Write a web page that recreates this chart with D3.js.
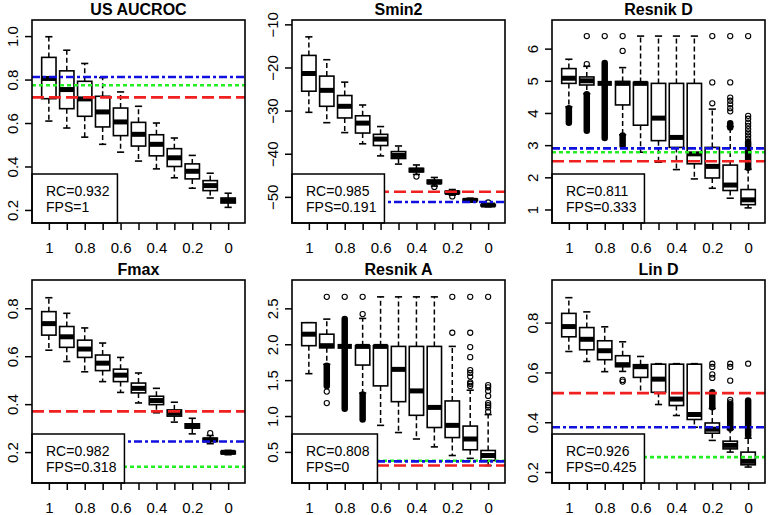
<!DOCTYPE html>
<html>
<head>
<meta charset="utf-8">
<script src="https://cdn.jsdelivr.net/npm/d3@7"></script>
<style>
body { margin: 0; background: #fff; }
text { font-family: "Liberation Sans", Arial, sans-serif; }
</style>
</head>
<body>
<svg id="chart" width="769" height="515"></svg>
<script>
// x categories (fraction kept), every other one gets a label
var levels = ["1", "0.9", "0.8", "0.7", "0.6", "0.5", "0.4", "0.3", "0.2", "0.1", "0"];

// each box: [lower whisker, q1, median, q3, upper whisker]
// --- US AUCROC
var aucStats = [
	[0.609, 0.712, 0.805, 0.902, 0.997],
	[0.577, 0.666, 0.754, 0.840, 0.935],
	[0.535, 0.631, 0.711, 0.792, 0.874],
	[0.502, 0.582, 0.651, 0.723, 0.809],
	[0.466, 0.542, 0.605, 0.669, 0.743],
	[0.425, 0.494, 0.548, 0.603, 0.677],
	[0.389, 0.449, 0.502, 0.546, 0.600],
	[0.348, 0.400, 0.440, 0.482, 0.531],
	[0.300, 0.343, 0.378, 0.412, 0.451],
	[0.255, 0.289, 0.312, 0.335, 0.369],
	[0.212, 0.232, 0.243, 0.255, 0.277]
];
var aucOut = [[], [], [], [], [], [], [], [], [], [], []];
var aucBand = [null, null, null, null, null, null, null, null, null, null, null];
var aucRef = [0.718, 0.774, 0.812]; // red, green, blue
var aucYlim = [0.14, 1.074];
var aucTicks = [0.2, 0.4, 0.6, 0.8, 1.0];

// --- Smin2
var sminStats = [
	[-30.4, -25.5, -21.4, -17.2, -12.9],
	[-32.8, -29.0, -25.3, -22.0, -18.2],
	[-35.1, -31.7, -29.0, -26.5, -23.4],
	[-37.7, -35.2, -32.9, -31.2, -28.7],
	[-40.5, -38.1, -36.6, -35.5, -33.7],
	[-42.4, -41.1, -40.4, -39.5, -38.2],
	[-44.8, -44.2, -43.8, -43.4, -42.6],
	[-47.5, -46.9, -46.6, -46.1, -45.5],
	[-49.6, -49.2, -49.0, -48.7, -48.3],
	[-51.2, -50.9, -50.8, -50.5, -50.3],
	[-52.3, -52.1, -51.9, -51.8, -51.6]
];
var sminOut = [[], [], [], [], [], [], [-45.3], [-47.7], [-49.9], [], [-51.3]];
var sminBand = [null, null, null, null, null, null, null, null, null, null, null];
var sminRef = [-48.8, null, -51.2];
var sminYlim = [-56.06, -8.99];
var sminTicks = [-50, -40, -30, -20, -10];

// --- Resnik D
var resDStats = [
	[4.19, 4.92, 5.08, 5.38, 5.67],
	[4.60, 4.87, 5.00, 5.12, 5.45],
	[4.92, 4.92, 4.92, 4.92, 4.92],
	[3.32, 4.25, 4.92, 4.98, 5.41],
	[2.78, 3.62, 4.92, 4.95, 6.39],
	[2.47, 3.14, 3.84, 4.92, 6.39],
	[2.24, 2.93, 3.24, 4.92, 6.39],
	[1.95, 2.42, 2.73, 4.92, 6.39],
	[1.66, 1.98, 2.34, 2.93, 4.12],
	[1.35, 1.59, 1.76, 2.38, 3.58],
	[1.05, 1.15, 1.30, 1.62, 2.25]
];
var resDOut = [
	[],
	[6.39, 5.52],
	[6.39],
	[6.39, 5.93],
	[], [], [], [],
	[6.39, 4.95, 4.30],
	[6.39, 4.95, 4.48, 4.38, 4.27, 4.15, 4.05],
	[6.39, 3.91, 3.82, 3.70, 3.60, 3.50, 3.40, 3.30, 3.20]
];
var resDBand = [[4.15, 3.70], [4.58, 3.45], [5.55, 3.22], [3.30, 2.98], null, null, null, null, null, [3.68, 3.55], [3.10, 2.30]];
var resDRef = [2.50, 2.78, 2.90];
var resDYlim = [0.58, 6.89];
var resDTicks = [1, 2, 3, 4, 5, 6];

// --- Fmax
var fmaxStats = [
	[0.625, 0.688, 0.736, 0.786, 0.844],
	[0.578, 0.637, 0.681, 0.724, 0.779],
	[0.535, 0.595, 0.630, 0.667, 0.718],
	[0.494, 0.540, 0.571, 0.605, 0.655],
	[0.449, 0.494, 0.521, 0.546, 0.595],
	[0.405, 0.447, 0.466, 0.488, 0.530],
	[0.364, 0.398, 0.415, 0.433, 0.466],
	[0.325, 0.350, 0.362, 0.376, 0.408],
	[0.276, 0.300, 0.308, 0.318, 0.341],
	[0.235, 0.244, 0.251, 0.258, 0.269],
	[0.189, 0.193, 0.199, 0.203, 0.207]
];
var fmaxOut = [[], [], [], [], [], [], [], [], [], [0.279], []];
var fmaxBand = [null, null, null, null, null, null, null, null, null, null, null];
var fmaxRef = [0.370, 0.139, 0.244];
var fmaxYlim = [0.071, 0.918];
var fmaxTicks = [0.2, 0.4, 0.6, 0.8];

// --- Resnik A
var resAStats = [
	[1.59, 1.98, 2.14, 2.30, 2.30],
	[1.72, 1.95, 1.98, 2.14, 2.35],
	[1.97, 1.97, 1.97, 1.97, 1.97],
	[1.32, 1.71, 1.97, 1.98, 2.36],
	[0.87, 1.42, 1.97, 1.98, 2.66],
	[0.77, 1.20, 1.65, 1.97, 2.66],
	[0.68, 1.01, 1.35, 1.97, 2.66],
	[0.57, 0.84, 1.12, 1.97, 2.66],
	[0.45, 0.70, 0.87, 1.21, 1.97],
	[0.41, 0.53, 0.68, 0.86, 1.36],
	[0.31, 0.38, 0.45, 0.52, 1.02]
];
var resAOut = [
	[],
	[2.66, 1.34, 1.18],
	[2.66],
	[2.66, 2.42],
	[], [], [], [],
	[2.66, 2.16],
	[2.66, 2.16, 1.96, 1.82, 1.64, 1.60, 1.55, 1.47, 1.45, 1.42],
	[2.66, 1.43, 1.40, 1.35, 1.28, 1.18, 1.15, 1.12, 1.06]
];
var resABand = [null, [1.70, 1.42], [2.35, 1.10], [1.30, 0.95], null, null, null, null, null, null, null];
var resARef = [0.31, 0.378, 0.368];
var resAYlim = [0.067, 2.895];
var resATicks = [0.5, 1.0, 1.5, 2.0, 2.5];

// --- Lin D
var linDStats = [
	[0.684, 0.743, 0.784, 0.837, 0.900],
	[0.644, 0.691, 0.733, 0.780, 0.843],
	[0.603, 0.651, 0.687, 0.727, 0.783],
	[0.604, 0.623, 0.631, 0.667, 0.723],
	[0.517, 0.580, 0.623, 0.631, 0.664],
	[0.471, 0.520, 0.573, 0.633, 0.635],
	[0.427, 0.467, 0.493, 0.633, 0.635],
	[0.380, 0.411, 0.431, 0.633, 0.635],
	[0.327, 0.356, 0.372, 0.397, 0.455],
	[0.280, 0.293, 0.307, 0.324, 0.371],
	[0.220, 0.229, 0.243, 0.280, 0.336]
];
var linDOut = [
	[], [], [],
	[0.570, 0.563],
	[], [], [], [],
	[0.635, 0.622, 0.592, 0.578],
	[0.635, 0.622, 0.567, 0.490, 0.480],
	[0.635]
];
var linDBand = [null, null, null, null, null, null, null, null, [0.52, 0.46], [0.472, 0.375], [0.487, 0.347]];
var linDRef = [0.517, 0.260, 0.380];
var linDYlim = [0.156, 0.971];
var linDTicks = [0.2, 0.4, 0.6, 0.8];

var titles = ["US AUCROC", "Smin2", "Resnik D", "Fmax", "Resnik A", "Lin D"];
var rcVals = ["0.932", "0.985", "0.811", "0.982", "0.808", "0.926"];
var fpsVals = ["1", "0.191", "0.333", "0.318", "0", "0.425"];

var refColors = ["#f02020", "#22ee22", "#1010e0"];
var refDash = ["12,5", "4,3", "8,3,3,3"];

var panels = [
	{stats: aucStats, out: aucOut, band: aucBand, ref: aucRef, ylim: aucYlim, ticks: aucTicks},
	{stats: sminStats, out: sminOut, band: sminBand, ref: sminRef, ylim: sminYlim, ticks: sminTicks},
	{stats: resDStats, out: resDOut, band: resDBand, ref: resDRef, ylim: resDYlim, ticks: resDTicks},
	{stats: fmaxStats, out: fmaxOut, band: fmaxBand, ref: fmaxRef, ylim: fmaxYlim, ticks: fmaxTicks},
	{stats: resAStats, out: resAOut, band: resABand, ref: resARef, ylim: resAYlim, ticks: resATicks},
	{stats: linDStats, out: linDOut, band: linDBand, ref: linDRef, ylim: linDYlim, ticks: linDTicks}
];

var svg = d3.select("#chart");
svg.append("rect").attr("width", 769).attr("height", 515).attr("fill", "#fff");

var pw = 213, ph = 203;

panels.forEach(function(p, k) {
	var col = k % 3, row = Math.floor(k / 3);
	var left = 32 + col * 260, top = 20 + row * 260;
	var g = svg.append("g");

	var x = d3.scalePoint().domain(levels).range([left, left + pw]).padding(0.94);
	var y = d3.scaleLinear().domain(p.ylim).range([top + ph, top]);
	var bw = x.step() * 0.8;

	// boxes
	p.stats.forEach(function(s, i) {
		var cx = x(levels[i]);
		var b = g.append("g");
		b.append("line").attr("x1", cx).attr("x2", cx).attr("y1", y(s[3])).attr("y2", y(s[4]))
			.attr("stroke", "#000").attr("stroke-width", 1.5).attr("stroke-dasharray", "5,3");
		b.append("line").attr("x1", cx).attr("x2", cx).attr("y1", y(s[1])).attr("y2", y(s[0]))
			.attr("stroke", "#000").attr("stroke-width", 1.5).attr("stroke-dasharray", "5,3");
		[s[0], s[4]].forEach(function(v) {
			b.append("line").attr("x1", cx - bw / 4).attr("x2", cx + bw / 4).attr("y1", y(v)).attr("y2", y(v))
				.attr("stroke", "#000").attr("stroke-width", 1.6);
		});
		b.append("rect").attr("x", cx - bw / 2).attr("y", y(s[3]))
			.attr("width", bw).attr("height", Math.max(0, y(s[1]) - y(s[3])))
			.attr("fill", "#fff").attr("stroke", "#000").attr("stroke-width", 1.6);
		b.append("line").attr("x1", cx - bw / 2).attr("x2", cx + bw / 2).attr("y1", y(s[2])).attr("y2", y(s[2]))
			.attr("stroke", "#000").attr("stroke-width", 5);

		// crowded outliers drawn as one solid run
		if (p.band[i]) {
			b.append("line").attr("x1", cx).attr("x2", cx)
				.attr("y1", y(p.band[i][0])).attr("y2", y(p.band[i][1]))
				.attr("stroke", "#000").attr("stroke-width", 6.5).attr("stroke-linecap", "round");
		}
		b.selectAll("circle").data(p.out[i]).enter().append("circle")
			.attr("cx", cx).attr("cy", function(d) { return y(d); }).attr("r", 2.6)
			.attr("fill", "none").attr("stroke", "#000").attr("stroke-width", 1.1);
	});

	// reference lines: red dashed, green dotted, blue dot-dash
	p.ref.forEach(function(v, j) {
		if (v == null) { return; }
		g.append("line").attr("x1", left).attr("x2", left + pw).attr("y1", y(v)).attr("y2", y(v))
			.attr("stroke", refColors[j]).attr("stroke-width", 2.6).attr("stroke-dasharray", refDash[j]);
	});

	// legend box bottom-left
	var lg = g.append("g");
	var lrect = lg.append("rect").attr("x", left).attr("y", top + ph - 49).attr("height", 49)
		.attr("fill", "#fff").attr("stroke", "#000").attr("stroke-width", 1.5);
	var t1 = lg.append("text").attr("x", left + 14).attr("y", top + ph - 27.5).attr("font-size", 14).text("RC=" + rcVals[k]);
	var t2 = lg.append("text").attr("x", left + 14).attr("y", top + ph - 11.5).attr("font-size", 14).text("FPS=" + fpsVals[k]);
	var tw = Math.max(t1.node().getComputedTextLength(), t2.node().getComputedTextLength());
	lrect.attr("width", tw + 22);

	// frame
	g.append("rect").attr("x", left).attr("y", top).attr("width", pw).attr("height", ph)
		.attr("fill", "none").attr("stroke", "#000").attr("stroke-width", 1.6);

	// axes
	var xa = g.append("g").attr("transform", "translate(0," + (top + ph) + ")")
		.call(d3.axisBottom(x).tickSize(7).tickFormat(function(d, i) { return i % 2 === 0 ? d : ""; }));
	xa.select(".domain").remove();
	xa.selectAll("line").attr("stroke-width", 1.5);
	xa.selectAll("text").attr("font-size", 15).attr("font-family", "Liberation Sans, Arial, sans-serif")
		.attr("fill", "#000").attr("y", 25).attr("dy", "0.35em");

	var ya = g.append("g").attr("transform", "translate(" + left + ",0)")
		.call(d3.axisLeft(y).tickValues(p.ticks).tickSize(7).tickFormat(function(d) {
			return p.ticks.some(function(t) { return t % 1 !== 0; }) ? d3.format(".1f")(d) : d3.format("d")(d);
		}));
	ya.select(".domain").remove();
	ya.selectAll("line").attr("stroke-width", 1.5);
	ya.selectAll("text").attr("font-size", 15).attr("font-family", "Liberation Sans, Arial, sans-serif")
		.attr("fill", "#000").attr("x", null).attr("dy", "0.35em")
		.attr("text-anchor", "middle").attr("transform", "translate(-19,0) rotate(-90)");

	// title
	g.append("text").attr("x", left + pw / 2).attr("y", top - 5).attr("text-anchor", "middle")
		.attr("font-size", 16).attr("font-weight", "bold").text(titles[k]);
});
</script>
</body>
</html>
